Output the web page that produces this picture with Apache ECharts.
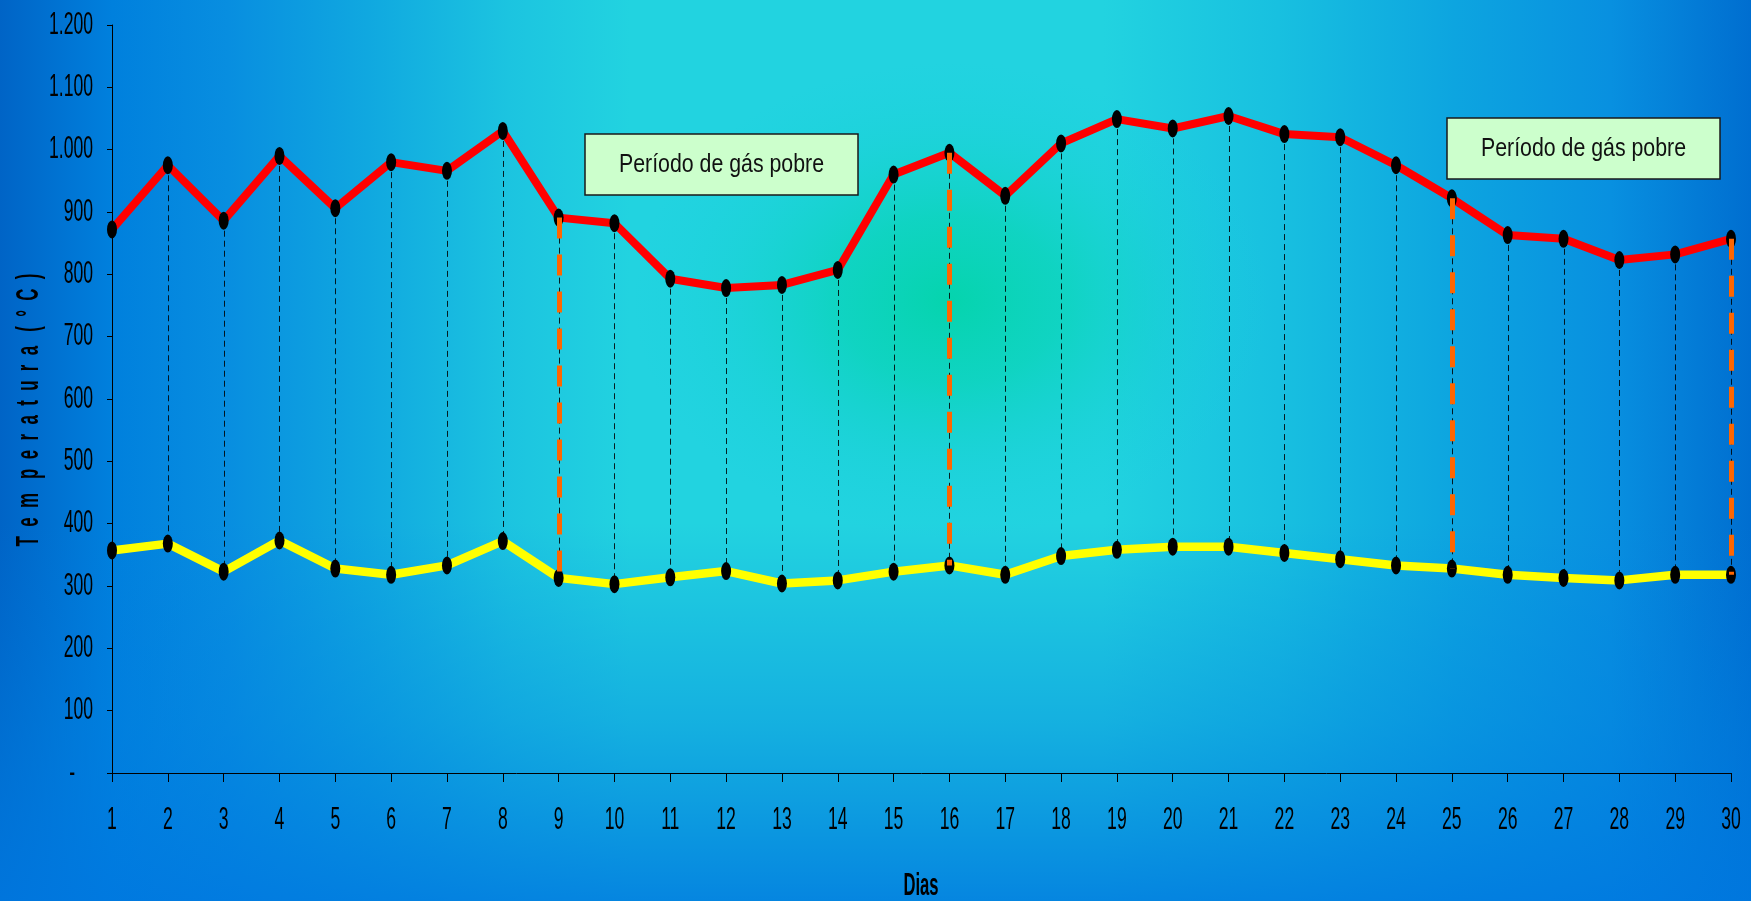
<!DOCTYPE html>
<html>
<head>
<meta charset="utf-8">
<script src="https://cdn.jsdelivr.net/npm/echarts@6/dist/echarts.min.js"></script>
<style>
  html, body { margin: 0; padding: 0; }
  #chart { width: 1751px; height: 901px; }
</style>
</head>
<body>
<div id="chart"></div>
<script>
// Daily temperatures over a 30-day run
const days = ['1','2','3','4','5','6','7','8','9','10','11','12','13','14','15',
              '16','17','18','19','20','21','22','23','24','25','26','27','28','29','30'];
const upperTemps = [872, 975, 886, 990, 906, 980, 966, 1030, 891, 882, 793, 778, 783, 807, 960,
                    995, 926, 1010, 1049, 1034, 1054, 1025, 1020, 975, 922, 863, 857, 823, 832, 857];
const lowerTemps = [357, 368, 323, 373, 328, 318, 333, 372, 313, 303, 314, 324, 304, 309, 323,
                    333, 318, 348, 358, 363, 363, 353, 343, 333, 328, 318, 313, 309, 318, 318];
// days where a poor-gas period starts / ends
const periodLimits = ['9', '16', '25', '30'];
const yTicks = [0, 100, 200, 300, 400, 500, 600, 700, 800, 900, 1000, 1100, 1200];
const yMin = 0, yMax = 1200, yStep = 100;
const periodNote = 'Período de gás pobre';
const xName = 'Dias';
const yName = 'T  e  m   p  e  r  a  t  u  r  a   (  °  C  )';

// tall, condensed lettering
const SANS = '"Liberation Sans", Arial, sans-serif';
const NARROW = 0.55;
const ELLIPSE = 'path://M5,0A5,8 0 1,1 5,16A5,8 0 1,1 5,0Z';

const chart = echarts.init(document.getElementById('chart'), null, { renderer: 'canvas' });

function thousands(v) {
  return String(v).replace(/\B(?=(\d{3})+(?!\d))/g, '.');
}

function noteBox(x, y) {
  return {
    type: 'group', x: x, y: y, z: 100,
    children: [
      { type: 'rect', shape: { x: 0, y: 0, width: 273, height: 61 },
        style: { fill: '#CCFFCC', stroke: '#1a1a1a', lineWidth: 1.5 } },
      { type: 'text', x: 136.5, y: 31, scaleX: 0.82,
        style: { text: periodNote, fill: '#111', font: '26px ' + SANS,
                 align: 'center', verticalAlign: 'middle' } }
    ]
  };
}

const hiLoData = days.map((d, i) => [i, upperTemps[i], lowerTemps[i]]);
const limitData = periodLimits.map(d => {
  const i = days.indexOf(d);
  return [i, upperTemps[i], lowerTemps[i]];
});

function verticalSegment(style) {
  return function (params, api) {
    const top = api.coord([api.value(0), api.value(1)]);
    const bot = api.coord([api.value(0), api.value(2)]);
    const x = Math.round(top[0]) + 0.5;
    return {
      type: 'line',
      shape: { x1: x, y1: top[1], x2: x, y2: bot[1] },
      style: style
    };
  };
}

const option = {
  animation: false,
  graphic: [
    // background: blue sides, cyan middle, green glow
    { type: 'rect', z: -100, silent: true,
      shape: { x: 0, y: 0, width: 1751, height: 901 },
      style: { fill: new echarts.graphic.LinearGradient(0, 0, 1, 0, [
        { offset: 0, color: '#0064C6' },
        { offset: 0.064, color: '#0080DD' },
        { offset: 0.13, color: '#088EE0' },
        { offset: 0.21, color: '#10A8E0' },
        { offset: 0.29, color: '#1CC4E0' },
        { offset: 0.36, color: '#22D3E0' },
        { offset: 0.63, color: '#22D3E0' },
        { offset: 0.73, color: '#18C0E0' },
        { offset: 0.83, color: '#0DA5E0' },
        { offset: 0.92, color: '#0890E0' },
        { offset: 1, color: '#006ED0' }
      ]) } },
    { type: 'rect', z: -99, silent: true,
      shape: { x: 0, y: 0, width: 1751, height: 901 },
      style: { fill: new echarts.graphic.LinearGradient(0, 0, 0, 1, [
        { offset: 0, color: 'rgba(0,120,224,0)' },
        { offset: 0.58, color: 'rgba(0,120,224,0)' },
        { offset: 0.8, color: 'rgba(0,125,224,0.4)' },
        { offset: 1, color: 'rgba(0,120,224,0.85)' }
      ]) } },
    { type: 'circle', z: -98, silent: true, x: 950, y: 300, scaleY: 0.75,
      shape: { cx: 0, cy: 0, r: 320 },
      style: { fill: new echarts.graphic.RadialGradient(0.5, 0.5, 0.5, [
        { offset: 0, color: 'rgba(2,212,168,0.9)' },
        { offset: 0.35, color: 'rgba(6,212,178,0.65)' },
        { offset: 0.7, color: 'rgba(15,210,200,0.25)' },
        { offset: 1, color: 'rgba(20,210,220,0)' }
      ]) } },
    noteBox(585, 134),
    noteBox(1447, 118),
    { type: 'text', z: 50, x: 29, y: 410, rotation: Math.PI / 2, scaleX: 0.527,
      style: { text: yName, fill: '#000', font: 'bold 32px ' + SANS,
               align: 'center', verticalAlign: 'middle' } },
    { type: 'text', z: 50, x: 921, y: 886, scaleX: 0.52,
      style: { text: xName, fill: '#000', font: 'bold 32px ' + SANS,
               align: 'center', verticalAlign: 'middle' } }
  ],
  grid: { left: 112, top: 25, width: 1619, height: 748, containLabel: false },
  xAxis: {
    type: 'category', data: days, boundaryGap: false,
    axisLine: { lineStyle: { color: '#000', width: 1 } },
    axisTick: { show: true, length: 9, alignWithLabel: true, lineStyle: { color: '#000' } },
    axisLabel: { show: false, interval: 0 },
    splitLine: { show: false }
  },
  yAxis: {
    type: 'value', min: yMin, max: yMax, interval: yStep,
    axisLine: { show: true, lineStyle: { color: '#000', width: 1 } },
    axisTick: { show: true, length: 5, lineStyle: { color: '#000' } },
    axisLabel: { show: false },
    splitLine: { show: false }
  },
  series: [
    {
      // category labels under the x axis
      type: 'custom', name: 'rotulos-x', silent: true, clip: false, z: 5,
      data: days.map((d, i) => [i, yMin]), encode: { x: 0, y: 1 },
      renderItem: (params, api) => {
        const p = api.coord([api.value(0), api.value(1)]);
        return {
          type: 'text', x: p[0], y: p[1] + 47, scaleX: NARROW,
          style: { text: days[params.dataIndex], fill: '#000', font: '32px ' + SANS,
                   align: 'center', verticalAlign: 'middle' }
        };
      }
    },
    {
      // value labels beside the y axis
      type: 'custom', name: 'rotulos-y', silent: true, clip: false, z: 5,
      data: yTicks.map(v => [0, v]), encode: { x: 0, y: 1 },
      renderItem: (params, api) => {
        const v = api.value(1);
        const p = api.coord([0, v]);
        return {
          type: 'text', x: p[0] - (v === 0 ? 37 : 19), y: p[1], scaleX: NARROW,
          style: { text: v === 0 ? '-' : thousands(v), fill: '#000', font: '32px ' + SANS,
                   align: 'right', verticalAlign: 'middle' }
        };
      }
    },
    {
      type: 'custom', name: 'hi-lo', silent: true, z: 1,
      data: hiLoData, encode: { x: 0, y: [1, 2] },
      renderItem: verticalSegment({ stroke: 'rgba(0,0,0,0.85)', lineWidth: 1, lineDash: [6, 4] })
    },
    {
      type: 'custom', name: 'limites', silent: true, z: 4,
      data: limitData, encode: { x: 0, y: [1, 2] },
      renderItem: verticalSegment({ stroke: '#FF6600', lineWidth: 5, lineDash: [21, 16] })
    },
    {
      type: 'line', name: 'superior', data: upperTemps, z: 3,
      symbol: ELLIPSE, symbolSize: [10, 18], showAllSymbol: true,
      lineStyle: { color: '#FF0000', width: 8 },
      itemStyle: { color: '#000', borderWidth: 0 }
    },
    {
      type: 'line', name: 'inferior', data: lowerTemps, z: 3,
      symbol: ELLIPSE, symbolSize: [10, 18], showAllSymbol: true,
      lineStyle: { color: '#FFFF00', width: 8.5 },
      itemStyle: { color: '#000', borderWidth: 0 }
    }
  ]
};

chart.setOption(option);
</script>
</body>
</html>
